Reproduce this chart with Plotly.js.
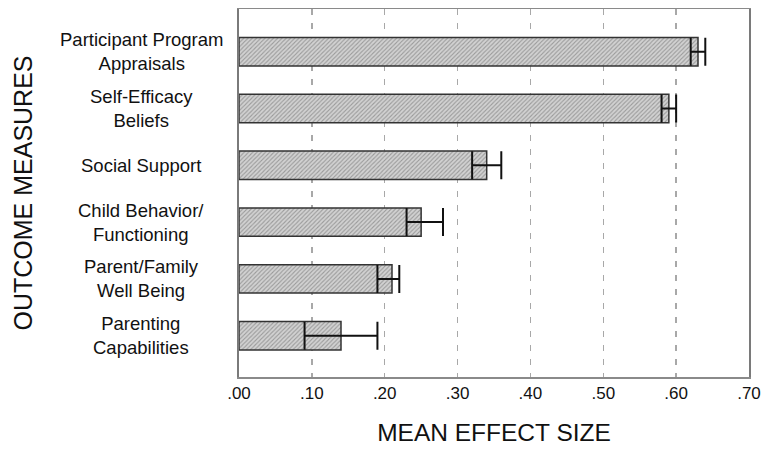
<!DOCTYPE html>
<html>
<head>
<meta charset="utf-8">
<script src="https://cdn.plot.ly/plotly-3.0.1.min.js"></script>
<style>html,body{margin:0;padding:0;background:#fff;}#chart{width:762px;height:453px;}</style>
</head>
<body>
<div id="chart"></div>
<script>
// Outcome measures (top to bottom)
var categories = [
  "Participant Program<br>Appraisals",
  "Self-Efficacy<br>Beliefs",
  "Social Support",
  "Child Behavior/<br>Functioning",
  "Parent/Family<br>Well Being",
  "Parenting<br>Capabilities"
];
// Mean effect sizes
var meanEffect = [0.63, 0.59, 0.34, 0.25, 0.21, 0.14];
// Error extents (below / above the mean)
var errMinus = [0.01, 0.01, 0.02, 0.02, 0.02, 0.05];
var errPlus  = [0.01, 0.01, 0.02, 0.03, 0.01, 0.05];
// X tick labels
var xTickVals = [0, 0.1, 0.2, 0.3, 0.4, 0.5, 0.6, 0.7];
var xTickText = [".00", ".10", ".20", ".30", ".40", ".50", ".60", ".70"];

var FONT = "Arial, 'Liberation Sans', sans-serif";

var trace = {
  type: "bar",
  orientation: "h",
  x: meanEffect,
  y: categories,
  marker: {
    color: "#cccccc",
    pattern: {shape: "/", fgcolor: "#9a9a9a", bgcolor: "#d2d2d2", size: 3, solidity: 0.35},
    line: {color: "#333333", width: 1.5}
  },
  error_x: {
    type: "data",
    symmetric: false,
    array: errPlus,
    arrayminus: errMinus,
    color: "#111111",
    thickness: 2,
    width: 14
  },
  hoverinfo: "x+y"
};

var annotations = categories.map(function (c) {
  return {
    xref: "paper", yref: "y",
    x: -0.192, y: c,
    xanchor: "center", yanchor: "middle",
    align: "center",
    text: c,
    showarrow: false,
    font: {family: FONT, size: 18.5, color: "#111111"}
  };
});

var layout = {
  width: 762,
  height: 453,
  margin: {l: 239, r: 13, t: 9, b: 76, pad: 0},
  paper_bgcolor: "#ffffff",
  plot_bgcolor: "#ffffff",
  showlegend: false,
  bargap: 0.5,
  font: {family: FONT, color: "#111111"},
  xaxis: {
    range: [0, 0.7],
    tickvals: xTickVals,
    ticktext: xTickText,
    tickfont: {family: FONT, size: 17, color: "#111111"},
    ticks: "",
    showgrid: true,
    gridcolor: "#a8a8a8",
    gridwidth: 1.5,
    griddash: "6px,8px",
    zeroline: false,
    showline: true,
    linecolor: "#8a8a8a",
    linewidth: 1.5,
    mirror: true,
    fixedrange: true,
    title: {text: "MEAN EFFECT SIZE", font: {family: FONT, size: 24.5, color: "#111111"}, standoff: 22}
  },
  yaxis: {
    type: "category",
    categoryorder: "array",
    categoryarray: categories,
    range: [5.727, -0.752],
    showticklabels: false,
    ticks: "",
    showgrid: false,
    zeroline: false,
    showline: true,
    linecolor: "#7a7a7a",
    linewidth: 2,
    mirror: true,
    fixedrange: true,
    title: {text: "OUTCOME MEASURES", font: {family: FONT, size: 25, color: "#111111"}, standoff: 197}
  },
  annotations: annotations
};

Plotly.newPlot("chart", [trace], layout, {displayModeBar: false, staticPlot: true});
</script>
</body>
</html>
